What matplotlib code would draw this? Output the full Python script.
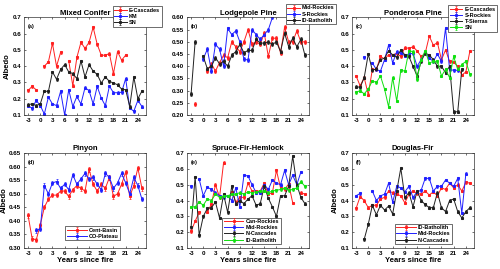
import numpy as np
import matplotlib.pyplot as plt

nan = np.nan
years = list(range(-3, 26))

# (a) Mixed Conifer
mc_ecascades = [.251, .276, .255, nan, .40, .427, .54, .40, .485, nan, .433, .28, .454, .547, .51,
                .547, .64, .535, .468, .468, .478, .355, .49, .437, .468, nan, nan, nan, nan]
mc_km = [.158, .141, .19, .158, .106, .21, .168, .158, .245, .10, .255, .152, .214, .168, .268,
         .25, .168, .276, .204, .158, .278, .237, .237, .24, .324, .143, .123, .19, .152]
mc_sn = [.164, .168, .158, .168, .247, .245, .365, .32, .38, .41, .365, .355, .324, .433, .334,
         .41, .37, .35, .297, .334, .307, .297, .286, .26, .255, .152, .334, .2, .247]

# (b) Lodgepole Pine
lp_midrockies = [nan, .245, nan, nan, .38, .41, .38, .415, .445, .435, .50, .48, .46, .50, .55,
                 .49, .50, .49, .535, .44, .515, .515, .455, .56, .50, .50, .545, .50, .50]
lp_srockies = [nan, nan, nan, .43, .47, .38, .49, .47, .40, .555, .53, .545, .50, .43, .425,
               .55, .53, .51, .53, .55, .60, nan, nan, nan, nan, nan, nan, nan, nan]
lp_idbath = [.285, .50, nan, .44, .39, .40, .435, .41, .42, .40, .445, .46, .49, .455, .465,
             .465, .51, .495, .495, .50, .49, .50, .46, .535, .48, .515, .48, .51, .445]

# (c) Ponderosa Pine
pp_ecascades = [.34, .28, .33, .225, .38, .38, .46, .445, .47, .47, .48, .46, .515, .51, .52,
                .495, .46, .48, .585, .53, .545, .44, .50, .43, .425, .40, .345, .365, .495]
pp_srockies = [nan, nan, .455, nan, .42, .38, .37, .44, .53, .42, .49, .48, .465, .475, .48,
               .40, .44, .485, .45, .43, .475, .43, .635, .38, .375, .375, nan, nan, nan]
pp_tsierras = [.275, .27, .33, .475, .375, .385, .44, .45, .495, .47, .455, .50, .47, .46, .40,
               .34, .43, .48, .47, .44, .40, .40, .36, .40, .12, .12, .38, nan, nan]
pp_sn = [.24, .25, .23, .26, .31, .30, .34, .26, .15, .33, .185, .375, .37, .495, .49,
         .32, .44, .495, .42, .43, .43, .34, .38, .33, .46, .38, .41, .43, .35]

# (d) Pinyon
pi_centbasin = [.42, .335, .33, .385, .45, .48, .495, .495, .51, .51, .49, .515, .53, .52, .51,
                .59, .535, .51, .535, .52, .56, .49, .50, .535, .58, .49, .53, .595, .52]
pi_coplateau = [nan, nan, .365, .37, .53, .50, .54, .545, .52, .535, .515, .57, .535, .555, .575,
                .555, .56, .535, .515, .575, .56, .52, .54, .575, .54, .50, .56, .53, .48]

# (e) Spruce-Fir-Hemlock
sf_canrockies = [.205, .27, .325, nan, .33, .375, .50, .42, .64, nan, .455, .39, .42, .42, .51,
                 .46, .46, .46, .51, .44, .45, .59, .48, .47, .505, .385, nan, .45, .44]
sf_midrockies = [.49, nan, .535, .43, .485, .47, .45, .43, .42, .43, .40, .48, .36, .56, .555,
                 .50, .45, .45, .50, .47, .53, .51, .50, .59, .50, .56, .50, .58, nan]
sf_ncascades = [.23, .55, .18, .30, .35, .355, .39, .29, .44, .325, .49, .38, .40, .38, .41,
                .43, .37, .38, .49, .415, .36, .30, .43, .43, .49, .68, .50, .42, .38]
sf_idbath = [.36, .36, .39, .37, .41, .40, .44, .42, .43, .43, .44, .44, .45, .44, .455,
             .45, .455, .46, .46, .45, .46, .465, .47, .48, .465, .47, .48, .52, .49]

# (f) Douglas-Fir
df_idbath = [.35, .425, .40, .355, .37, .37, .41, .42, .46, .45, .44, .43, .385, .44, .46,
             .445, .44, .46, .435, .455, .43, .48, .47, .51, .48, .50, .46, .515, .51]
df_midrockies = [.43, .445, nan, nan, .46, .40, .43, .44, .51, .39, .49, .48, .455, .49, .42,
                 .455, .465, .54, .54, .46, .49, .49, .53, .51, .49, .54, .32, .57, nan]
df_ncascades = [nan, nan, .155, .25, .37, .31, .37, .34, .365, .315, .46, .605, .42, .45, .36,
                .46, .40, .375, .355, .355, .45, .355, .33, .40, .41, .33, .29, .33, .355]

RED, BLUE, BLACK, GREEN = '#ff2020', '#2020ff', '#202020', '#10e010'

panels = [
    ("Mixed Conifer", "(a)", (0.1, 0.7), [("E-Cascades", mc_ecascades, RED), ("KM", mc_km, BLUE),
                                          ("SN", mc_sn, BLACK)]),
    ("Lodgepole Pine", "(b)", (0.2, 0.6), [("Mid-Rockies", lp_midrockies, RED), ("S-Rockies", lp_srockies, BLUE),
                                           ("ID-Batholith", lp_idbath, BLACK)]),
    ("Ponderosa Pine", "(c)", (0.1, 0.7), [("E-Cascades", pp_ecascades, RED), ("S-Rockies", pp_srockies, BLUE),
                                           ("T-Sierras", pp_tsierras, BLACK), ("SN", pp_sn, GREEN)]),
    ("Pinyon", "(d)", (0.3, 0.65), [("Cent-Basin", pi_centbasin, RED), ("CO-Plateau", pi_coplateau, BLUE)]),
    ("Spruce-Fir-Hemlock", "(e)", (0.1, 0.7), [("Can-Rockies", sf_canrockies, RED), ("Mid-Rockies", sf_midrockies, BLUE),
                                               ("N-Cascades", sf_ncascades, BLACK), ("ID-Batholith", sf_idbath, GREEN)]),
    ("Douglas-Fir", "(f)", (0.1, 0.7), [("ID-Batholith", df_idbath, RED), ("Mid-Rockies", df_midrockies, BLUE),
                                        ("N-Cascades", df_ncascades, BLACK)]),
]

plt.rcParams['font.family'] = ['Liberation Sans', 'DejaVu Sans']
plt.rcParams['font.weight'] = 'bold'
plt.rcParams['axes.unicode_minus'] = False

fig = plt.figure(figsize=(5, 2.69), dpi=100)
lefts = [0.048, 0.374, 0.704]
pos = [(l, 0.5725, 0.244, 0.3625) for l in lefts] + [(l, 0.078, 0.244, 0.353) for l in lefts]
leg_anchor = [(0.727, 1.115), (0.81, 1.14), (0.79, 1.125), (0.34, 0.08), (0.29, 0.04), (0.35, 0.04)]

for i, (title, tag, ylim, series) in enumerate(panels):
    ax = fig.add_axes(pos[i])
    for name, vals, col in series:
        ax.errorbar(years, vals, yerr=0.008, color=col, lw=0.7, marker='s', ms=1.2,
                    elinewidth=0.5, capsize=1, capthick=0.5, label=name)
    ax.set_xlim(-4, 26)
    ax.set_ylim(*ylim)
    ax.set_xticks(range(-3, 25, 3))
    step = 0.05 if ylim[1] - ylim[0] < 0.4 else 0.1
    ax.set_yticks(np.round(np.arange(ylim[0], ylim[1] + 1e-6, step), 2))
    ax.tick_params(direction='in', top=True, right=True, labelsize=4.5, length=1.5, width=0.4, pad=2)
    for sp in ax.spines.values():
        sp.set_linewidth(0.5)
        sp.set_color('#333333')
    ax.set_title(title, fontsize=5.5, fontweight='bold', pad=2)
    ax.text(0.03, 0.93, tag, transform=ax.transAxes, fontsize=4, fontweight='bold', va='top')
    if i in (0, 3, 5):
        ax.set_ylabel("Albedo", fontsize=5.5, fontweight='bold', labelpad=1)
    if i >= 3:
        ax.set_xlabel("Years since fire", fontsize=5.5, fontweight='bold', labelpad=1)
    if i < 3:
        lg = ax.legend(loc='upper left', bbox_to_anchor=leg_anchor[i], fontsize=4, handlelength=2.2,
                       borderpad=0.3, labelspacing=0.2, handletextpad=0.4, borderaxespad=0)
    else:
        lg = ax.legend(loc='lower left', bbox_to_anchor=leg_anchor[i], fontsize=4, handlelength=3.5,
                       borderpad=0.3, labelspacing=0.2, handletextpad=0.4, borderaxespad=0)
    lg.get_frame().set_boxstyle('square', pad=0)
    lg.get_frame().set_edgecolor('#333333')
    lg.get_frame().set_linewidth(0.5)
    lg.get_frame().set_alpha(1)
    lg.set_zorder(10)

fig.savefig('out.png', dpi=100)
